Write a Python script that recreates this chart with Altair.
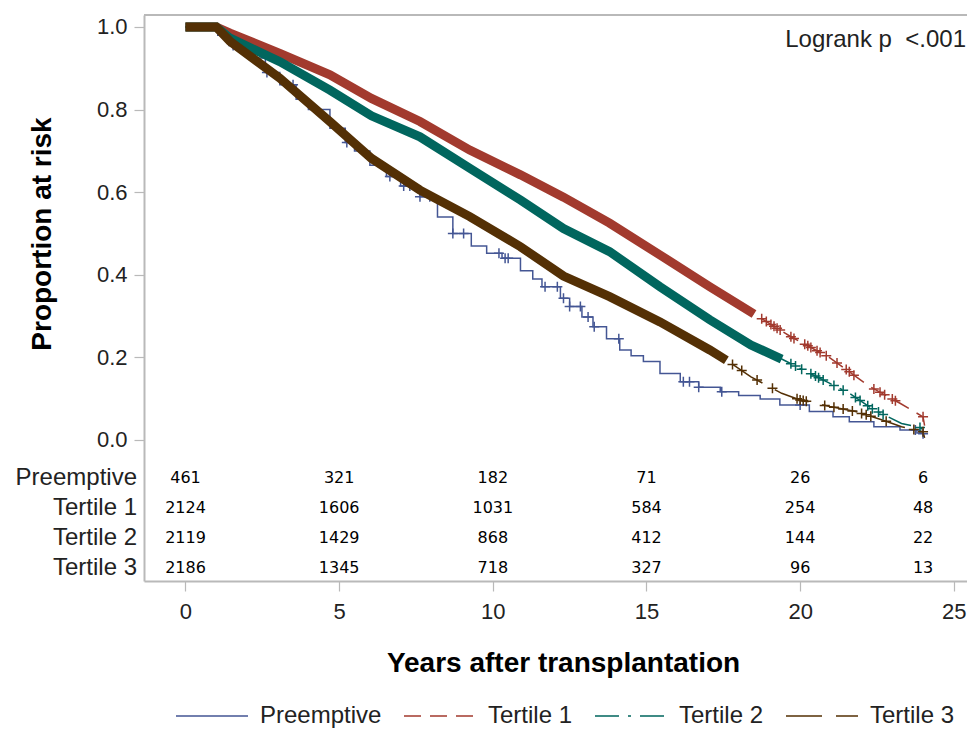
import altair as alt
import numpy as np
import pandas as pd

# ---------------- data ----------------
GROUPS = ["Preemptive", "Tertile 1", "Tertile 2", "Tertile 3"]
COLORS = ["#445694", "#A23A2E", "#01665E", "#543005"]
DASHES = [[1, 0], [17, 9], [24, 9, 3, 9], [36, 14]]

# Preemptive (step curve)
pre_t = [0, 1.05, 1.45, 2.0, 2.6, 3.07, 3.6, 4.0, 4.7, 5.2, 5.5, 6.0, 6.54, 7.0, 7.63,
         8.2, 8.7, 9.3, 9.8, 10.3, 10.9, 11.3, 11.6, 12.2, 12.5, 12.9, 13.26, 13.7,
         14.13, 14.5, 14.9, 15.44, 16.1, 16.7, 17.4, 18.0, 18.7, 19.34, 20.3, 21.07,
         21.6, 22.4, 23.25, 23.8, 24.0]
pre_s = [1.0, 0.98, 0.955, 0.925, 0.89, 0.86, 0.825, 0.80, 0.755, 0.72, 0.70, 0.665,
         0.638, 0.615, 0.589, 0.54, 0.50, 0.47, 0.452, 0.44, 0.41, 0.39, 0.371, 0.343,
         0.323, 0.298, 0.274, 0.245, 0.218, 0.204, 0.19, 0.161, 0.141, 0.128, 0.117,
         0.108, 0.099, 0.085, 0.069, 0.056, 0.044, 0.032, 0.024, 0.017, 0.015]

# Tertile 1
t1_t = [0, 1.0, 1.45, 3.07, 4.7, 6.05, 7.63, 9.25, 10.9, 12.3, 13.8, 15.44, 17.06,
        18.5, 19.7, 20.97, 22.27, 23.25, 24.0, 24.05]
t1_s = [1.0, 1.0, 0.985, 0.936, 0.884, 0.827, 0.771, 0.702, 0.642, 0.588, 0.525,
        0.448, 0.371, 0.305, 0.250, 0.199, 0.129, 0.089, 0.056, 0.035]

# Tertile 2
t2_t = [0, 1.0, 1.45, 3.07, 4.7, 6.05, 7.63, 9.25, 10.9, 12.3, 13.8, 15.44, 17.06, 18.4,
        19.4, 20.97, 21.6, 22.4, 23.3, 23.9, 24.0]
t2_s = [1.0, 1.0, 0.973, 0.916, 0.847, 0.785, 0.734, 0.658, 0.581, 0.512, 0.456, 0.371,
        0.291, 0.230, 0.196, 0.137, 0.113, 0.073, 0.040, 0.030, 0.025]

# Tertile 3
t3_t = [0, 1.0, 1.45, 3.07, 4.7, 6.05, 7.63, 9.25, 10.9, 12.3, 13.8, 15.44, 17.06, 17.6,
        18.4, 19.4, 20.0, 20.97, 21.8, 22.7, 23.3, 24.0, 24.05]
t3_s = [1.0, 1.0, 0.965, 0.876, 0.771, 0.682, 0.605, 0.541, 0.468, 0.397, 0.347, 0.286,
        0.218, 0.193, 0.153, 0.113, 0.097, 0.081, 0.069, 0.048, 0.032, 0.02, 0.005]

# end of the densely censored stretch (drawn as a thick band of "+" marks)
dense_end = {"Tertile 1": 18.5, "Tertile 2": 19.4, "Tertile 3": 17.6}

# individual censoring times (visible "+" marks)
cens_pre = [1.55, 2.65, 3.5, 5.25, 6.65, 7.1, 7.3, 7.63, 7.95, 8.7, 9.05, 10.2, 10.4, 10.5,
            11.7, 12.1, 12.3, 12.5, 12.85, 13.1, 13.3, 14.1, 16.2, 16.4, 16.7, 17.45, 20.0,
            23.75, 24.0]
cens_t1 = [18.75, 18.9, 19.05, 19.15, 19.25, 19.35, 19.7, 19.8, 20.15, 20.25, 20.35, 20.55,
           20.65, 20.85, 21.2, 21.5, 21.6, 21.75, 22.4, 22.6, 22.75, 23.0, 23.1, 24.0]
cens_t2 = [19.7, 19.85, 20.05, 20.35, 20.5, 20.6, 20.75, 21.1, 21.4, 21.8, 21.95, 22.2,
           22.35, 22.55, 22.7, 23.9]
cens_t3 = [17.8, 18.1, 18.6, 19.1, 19.9, 20.0, 20.1, 20.2, 20.8, 21.1, 21.4, 21.7, 22.0,
           22.15, 22.3, 22.8, 23.7, 24.0]

# numbers at risk
risk_times = [0, 5, 10, 15, 20, 24]
risk_pre = [461, 321, 182, 71, 26, 6]
risk_t1 = [2124, 1606, 1031, 584, 254, 48]
risk_t2 = [2119, 1429, 868, 412, 144, 22]
risk_t3 = [2186, 1345, 718, 327, 96, 13]

x_ticks = [0, 5, 10, 15, 20, 25]
y_ticks = [0.0, 0.2, 0.4, 0.6, 0.8, 1.0]
LOGRANK = "Logrank p\u00a0 <.001"

# ---------------- layout ----------------
W, H = 823, 566
X_DOMAIN = [-1.35, 25.43]
Y_DOMAIN = [-0.3414, 1.029]
ROW_Y = [-0.092, -0.165, -0.237, -0.310]
FRAME = "#b9b9b9"
FONT = "Liberation Sans"

# ---------------- build tables ----------------
curves = {"Preemptive": (pre_t, pre_s), "Tertile 1": (t1_t, t1_s),
          "Tertile 2": (t2_t, t2_s), "Tertile 3": (t3_t, t3_s)}
cens = {"Preemptive": cens_pre, "Tertile 1": cens_t1, "Tertile 2": cens_t2,
        "Tertile 3": cens_t3}
risks = {"Preemptive": risk_pre, "Tertile 1": risk_t1, "Tertile 2": risk_t2,
         "Tertile 3": risk_t3}

rows = []
for g, (ts, ss) in curves.items():
    for i, (t, s) in enumerate(zip(ts, ss)):
        rows.append({"group": g, "t": t, "s": s, "order": i})
curve_df = pd.DataFrame(rows)

band_df = pd.concat([
    curve_df[(curve_df.group == g) & (curve_df.t <= e)] for g, e in dense_end.items()
])

crow = []
for g, times in cens.items():
    ts, ss = curves[g]
    for t in times:
        if g == "Preemptive":
            idx = np.searchsorted(ts, t, side="right") - 1
            s = ss[idx]
        else:
            s = float(np.interp(t, ts, ss))
        crow.append({"group": g, "t": t, "s": s})
cens_df = pd.DataFrame(crow)

rrows = []
for gi, g in enumerate(GROUPS):
    for t, n in zip(risk_times, risks[g]):
        rrows.append({"group": g, "t": t, "n": str(n), "ry": ROW_Y[gi]})
risk_df = pd.DataFrame(rrows)
label_df = pd.DataFrame({"group": GROUPS, "ry": ROW_Y})

# ---------------- scales / encodings ----------------
xs = alt.Scale(domain=X_DOMAIN, nice=False, zero=False)
ys = alt.Scale(domain=Y_DOMAIN, nice=False, zero=False)
cs = alt.Scale(domain=GROUPS, range=COLORS)
ds = alt.Scale(domain=GROUPS, range=DASHES)

x_axis = alt.Axis(values=x_ticks, format="d", title="Years after transplantation",
                  titleFontSize=28, titleFont=FONT, titleFontWeight="bold",
                  titleColor="#000000", titleX=419, titleY=82,
                  titleBaseline="middle", titleAlign="center",
                  labelFontSize=22, labelFont=FONT, labelColor="#222222",
                  labelPadding=10, tickSize=10, tickColor=FRAME, tickWidth=1.2,
                  domainColor=FRAME, domainWidth=2, grid=False, labelFlush=False)
y_axis = alt.Axis(values=y_ticks, format=".1f", title="Proportion at risk",
                  titleFontSize=28, titleFont=FONT, titleFontWeight="bold",
                  titleColor="#000000", titleX=-102, titleY=218.5, titleAngle=270,
                  titleAlign="center", titleBaseline="middle",
                  labelFontSize=22, labelFont=FONT, labelColor="#222222",
                  labelPadding=7, tickSize=10, tickColor=FRAME, tickWidth=1.2,
                  domainColor=FRAME, domainWidth=2, grid=False, labelFlush=False)

X = alt.X("t:Q", scale=xs, axis=x_axis)
Y = alt.Y("s:Q", scale=ys, axis=y_axis)

LEG = dict(orient="none", legendX=31, legendY=664, direction="horizontal",
           title=None, symbolType="stroke", symbolSize=5184,
           symbolStrokeWidth=1.5, symbolOpacity=1, labelFontSize=24, labelFont=FONT,
           labelColor="#222222", labelOffset=11, columnPadding=19, padding=0)


def col():
    return alt.Color("group:N", scale=cs, legend=alt.Legend(**LEG))


def dash():
    return alt.StrokeDash("group:N", scale=ds, legend=alt.Legend(**LEG))


base_curve = alt.Chart(curve_df)

ter_line = base_curve.transform_filter(alt.datum.group != "Preemptive").mark_line(
    interpolate="linear", strokeWidth=1.5).encode(
    x=X, y=Y, order="order:Q", color=col(), strokeDash=dash())

pre_line = base_curve.transform_filter(alt.datum.group == "Preemptive").mark_line(
    interpolate="step-after", strokeWidth=1.5).encode(
    x=X, y=Y, order="order:Q", color=col(), strokeDash=dash())

cens_pts = alt.Chart(cens_df).mark_point(
    shape="M-1,0H1M0,-1V1", filled=False, size=100, strokeWidth=1.5, opacity=1).encode(
    x=X, y=Y, color=col())

band = alt.Chart(band_df).mark_line(strokeWidth=9, strokeCap="butt").encode(
    x=X, y=Y, order="order:Q", detail="group:N", color=col())

risk_text = alt.Chart(risk_df).mark_text(
    font="DejaVu Sans", fontSize=16, align="center", baseline="middle",
    color="#000000").encode(x=X, y=alt.Y("ry:Q", scale=ys, axis=y_axis), text="n:N")

row_labels = alt.Chart(label_df).mark_text(
    font=FONT, fontSize=24, align="right", baseline="middle", color="#222222").encode(
    x=alt.value(-7), y=alt.Y("ry:Q", scale=ys, axis=y_axis), text="group:N")

top_rule = alt.Chart(pd.DataFrame({"a": [0]})).mark_rule(
    color=FRAME, strokeWidth=2).encode(x=alt.value(0), x2=alt.value(W), y=alt.value(0))

logrank = alt.Chart(pd.DataFrame({"label": [LOGRANK]})).mark_text(
    font=FONT, fontSize=24, align="right", baseline="middle", color="#222222").encode(
    x=alt.value(W - 1), y=alt.value(25), text="label:N")

chart = alt.layer(
    top_rule, pre_line, ter_line, cens_pts, band, risk_text, row_labels, logrank
).properties(
    width=W, height=H,
    autosize=alt.AutoSizeParams(type="none"),
    padding={"left": 136, "top": 7, "right": 0, "bottom": 148},
).configure_view(stroke=None)

chart.save("out.html", embed_options={"renderer": "svg", "actions": False})
